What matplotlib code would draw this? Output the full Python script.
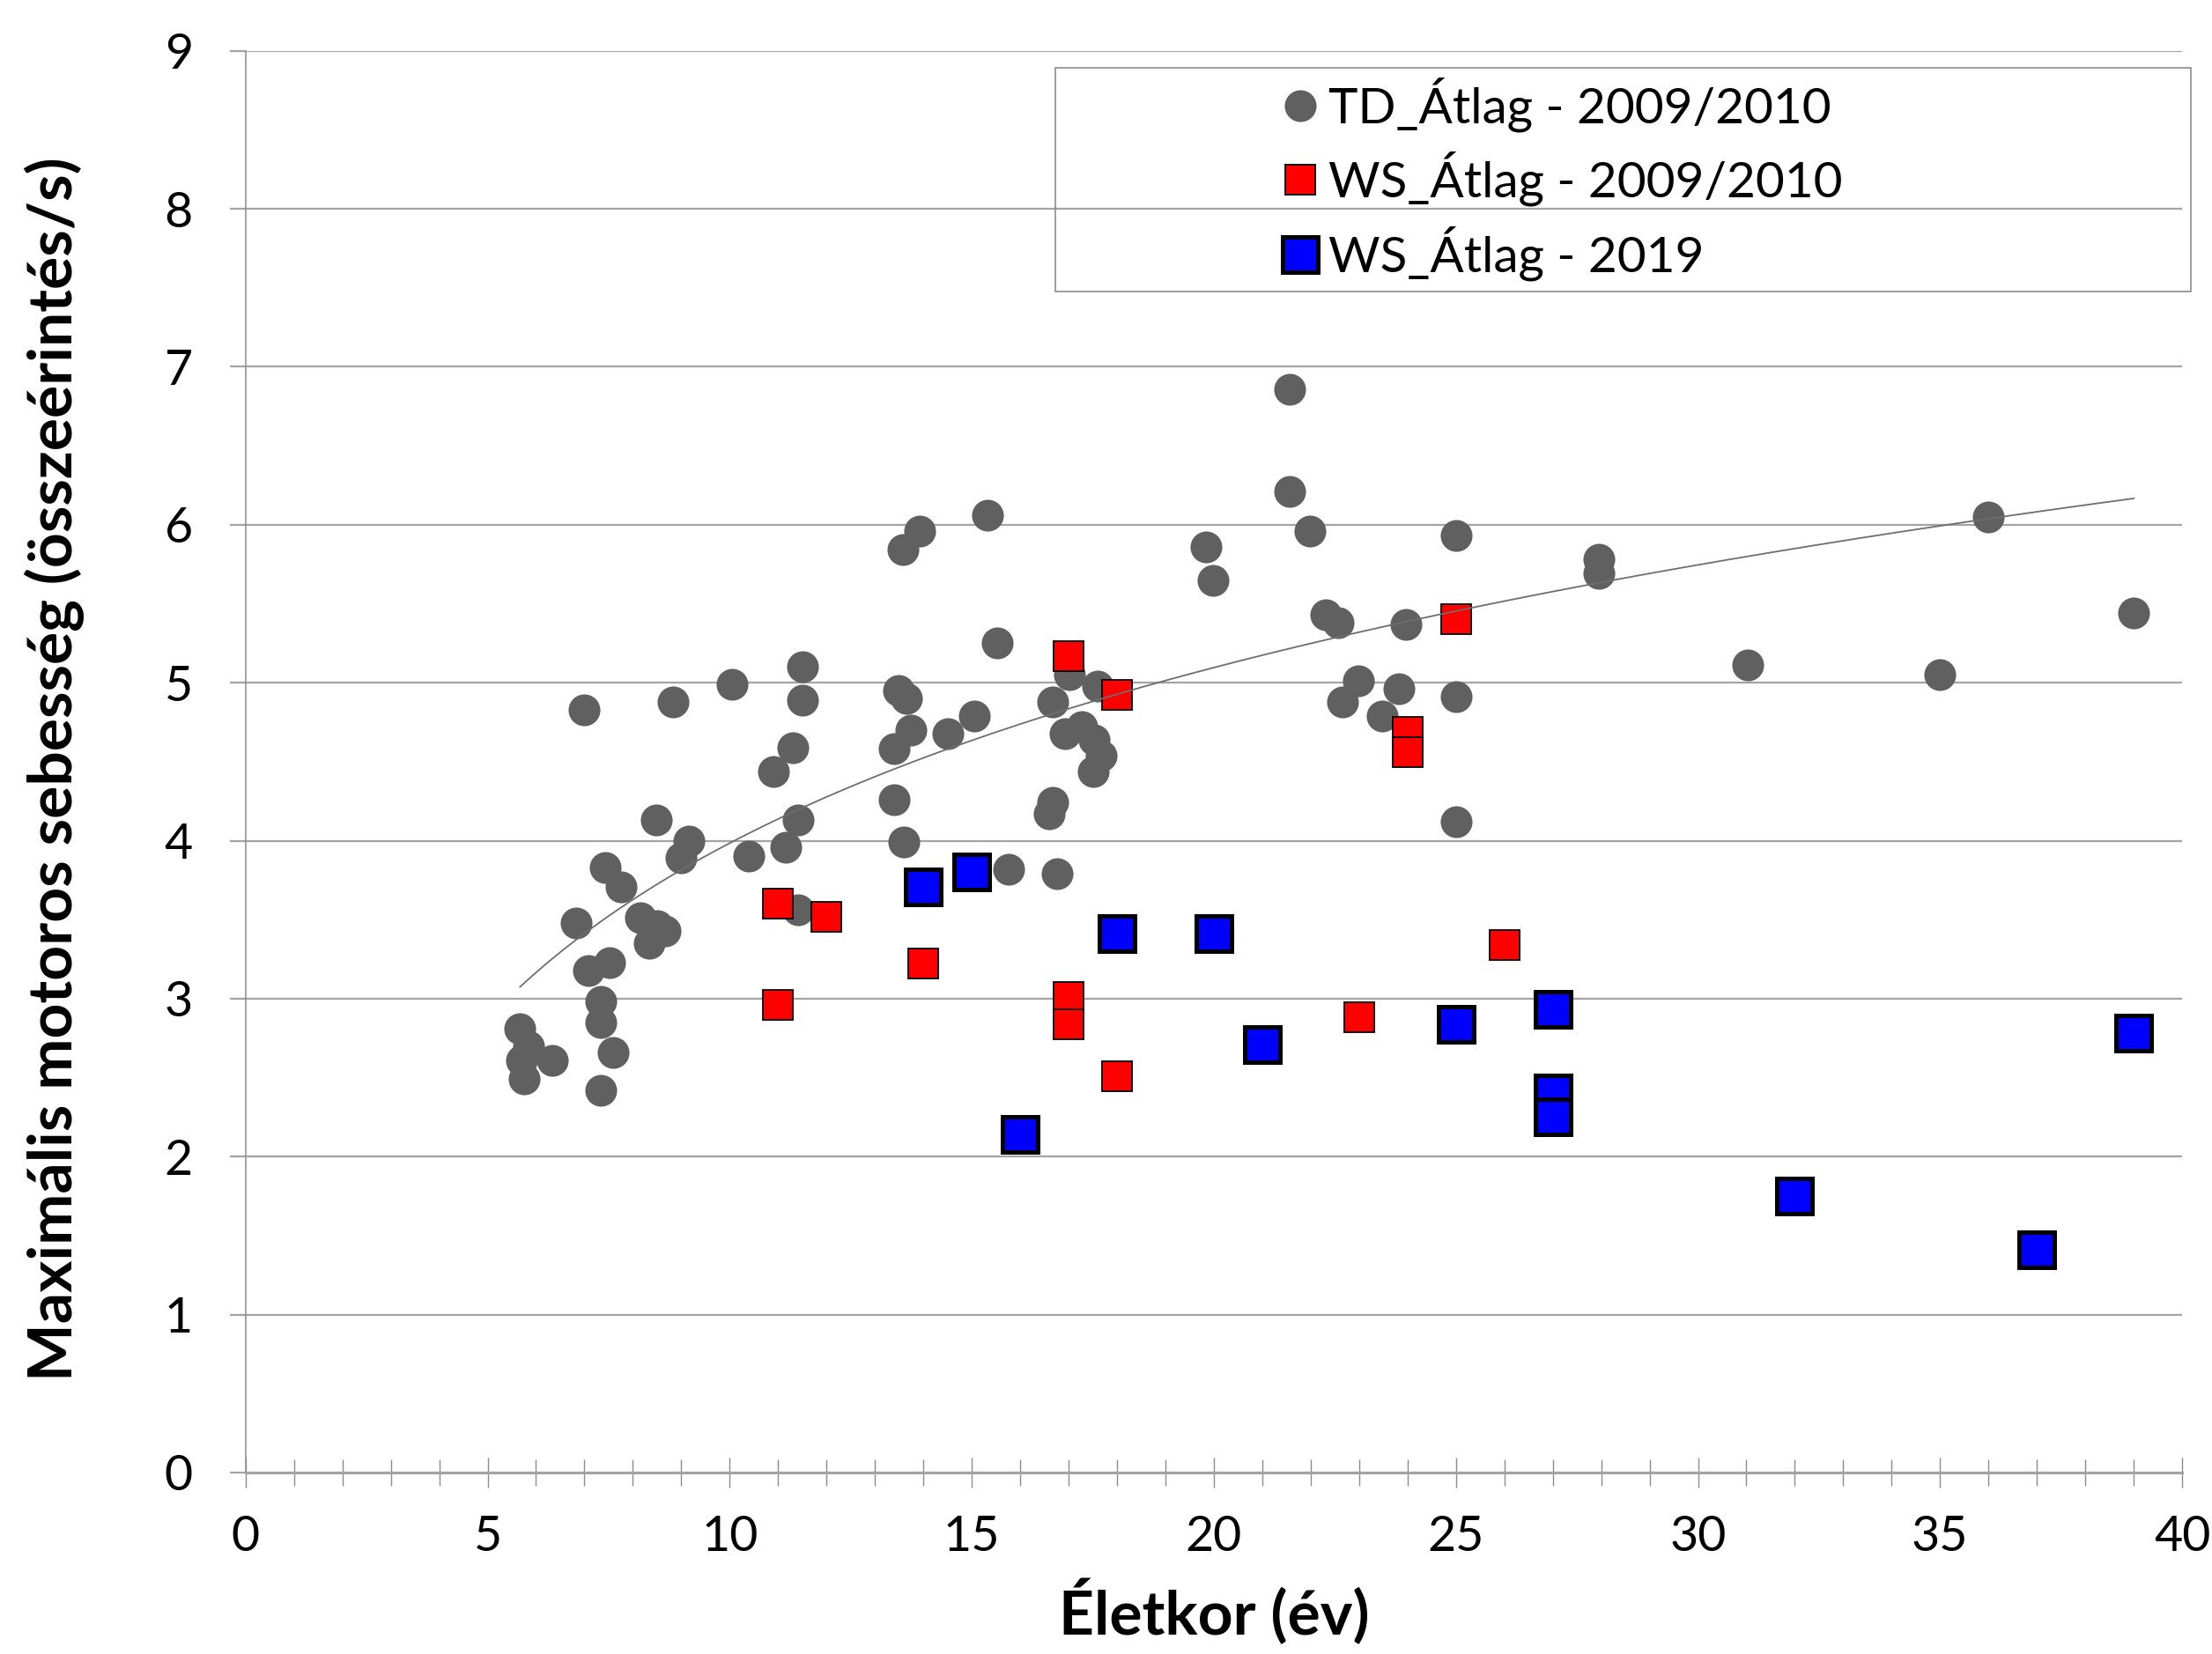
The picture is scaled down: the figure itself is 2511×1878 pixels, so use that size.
import numpy as np
import matplotlib
matplotlib.use('Agg')
import matplotlib.pyplot as plt
from matplotlib.patches import Rectangle

plt.rcParams['font.family'] = ['Lato', 'DejaVu Sans']

# ---------------- data ----------------
td_x = [5.67, 5.85, 5.70, 5.76, 6.34, 6.82, 6.99, 7.09, 7.34, 7.34, 7.34, 7.43, 7.52, 7.59,
        7.75, 8.16, 8.34, 8.48, 8.51, 8.67, 8.83, 9.00, 9.15, 10.05, 10.40, 10.90, 11.15,
        11.30, 11.42, 11.42, 11.50, 11.50, 13.40, 13.40, 13.49, 13.57, 13.59, 13.66, 13.75,
        13.92, 14.50, 15.06, 15.32, 15.52, 15.77, 16.60, 16.68, 16.67, 16.77, 16.93, 17.02,
        17.27, 17.53, 17.51, 17.60, 17.67, 19.84, 19.98, 21.56, 21.56, 21.99, 22.31, 22.57,
        22.66, 22.98, 23.48, 23.83, 23.97, 25.0, 25.0, 25.0, 27.96, 27.96, 31.02, 35.0,
        36.0, 39.0]
td_y = [2.81, 2.70, 2.61, 2.49, 2.61, 3.48, 4.83, 3.18, 2.98, 2.85, 2.42, 3.83, 3.23, 2.66,
        3.71, 3.51, 3.35, 4.13, 3.46, 3.43, 4.88, 3.89, 4.00, 4.99, 3.90, 4.44, 3.96,
        4.59, 4.13, 3.56, 5.10, 4.89, 4.58, 4.26, 4.95, 5.84, 3.99, 4.90, 4.70,
        5.96, 4.68, 4.79, 6.06, 5.25, 3.82, 4.17, 4.24, 4.88, 3.79, 4.68, 5.05,
        4.72, 4.64, 4.44, 4.98, 4.54, 5.86, 5.65, 6.86, 6.21, 5.96, 5.43, 5.38,
        4.88, 5.01, 4.79, 4.96, 5.37, 5.93, 4.91, 4.12, 5.78, 5.69, 5.11, 5.05,
        6.05, 5.44]

ws1_x = [11, 11, 12, 14, 17, 17, 17, 18, 18, 23, 24, 24, 25, 26]
ws1_y = [3.60, 2.96, 3.52, 3.22, 5.17, 3.01, 2.84, 4.92, 2.51, 2.88, 4.69, 4.56, 5.40, 3.34]

ws2_x = [14, 15, 16, 18, 20, 21, 25, 27, 27, 27, 32, 37, 39]
ws2_y = [3.71, 3.80, 2.14, 3.41, 3.41, 2.71, 2.84, 2.93, 2.40, 2.25, 1.75, 1.41, 2.78]

labels = ['TD_Átlag - 2009/2010', 'WS_Átlag - 2009/2010', 'WS_Átlag - 2019']
x_ticks = [0, 5, 10, 15, 20, 25, 30, 35, 40]
y_ticks = [0, 1, 2, 3, 4, 5, 6, 7, 8, 9]

# ---------------- figure ----------------
fig = plt.figure(figsize=(25.11, 18.78), dpi=100)
ax = fig.add_axes([0.111, 0.1097, 0.8755, 0.8596])

h1, = ax.plot(td_x, td_y, 'o', ms=26, color='#606060', mec='none', zorder=3)
h2, = ax.plot(ws1_x, ws1_y, 's', ms=24, mfc='#ff0000', mec='black', mew=1.3, zorder=4)
h3, = ax.plot(ws2_x, ws2_y, 's', ms=28.5, mfc='#0000ff', mec='black', mew=3.6, zorder=5)

# logarithmic trendline fitted to the TD data
tx = np.asarray(td_x)
a, b = np.polyfit(np.log(tx), np.asarray(td_y), 1)
xs = np.linspace(tx.min(), tx.max(), 300)
ax.plot(xs, a * np.log(xs) + b, color='#6e6e6e', lw=1.3, zorder=6)

ax.set_xlim(0, 40)
ax.set_ylim(0, 9)
ax.set_xticks(x_ticks)
ax.set_xticks(range(0, 41), minor=True)
ax.set_yticks(y_ticks)
ax.grid(axis='y', color='#a3a3a3', lw=1.6, zorder=0)
ax.set_axisbelow(True)

for s in ['top', 'right']:
    ax.spines[s].set_visible(False)
ax.spines['bottom'].set_color('#a3a3a3')
ax.spines['bottom'].set_linewidth(2.2)
ax.spines['left'].set_color('#8c8c8c')
ax.spines['left'].set_linewidth(1.1)

ax.tick_params(axis='x', which='major', direction='inout', length=25, width=1.0,
               color='#8c8c8c', labelsize=40, pad=22)
ax.tick_params(axis='x', which='minor', direction='inout', length=21, width=1.0,
               color='#8c8c8c')
ax.tick_params(axis='y', which='major', direction='out', length=13, width=1.6,
               color='#a3a3a3', labelsize=40, pad=30)

ax.set_xlabel('Életkor (év)', fontsize=50, fontweight='bold')
ax.xaxis.set_label_coords(0.5, -0.075)
ax.set_ylabel('Maximális motoros sebesség (összeérintés/s)', fontsize=50, fontweight='bold')
ax.yaxis.set_label_coords(-0.083, 0.495)

# legend box
rect = Rectangle((0.4771, 0.8237), 0.5133, 0.1353, transform=fig.transFigure,
                 fill=False, ec='#8c8c8c', lw=1.2)
fig.add_artist(rect)
fig.legend([h1, h2, h3], labels, loc='center left', bbox_to_anchor=(0.5688, 0.8918),
           frameon=False, fontsize=40.8, borderpad=0, handlelength=0.7,
           handletextpad=0.2, labelspacing=0.39, numpoints=1)

fig.savefig('out.png', dpi=100)
